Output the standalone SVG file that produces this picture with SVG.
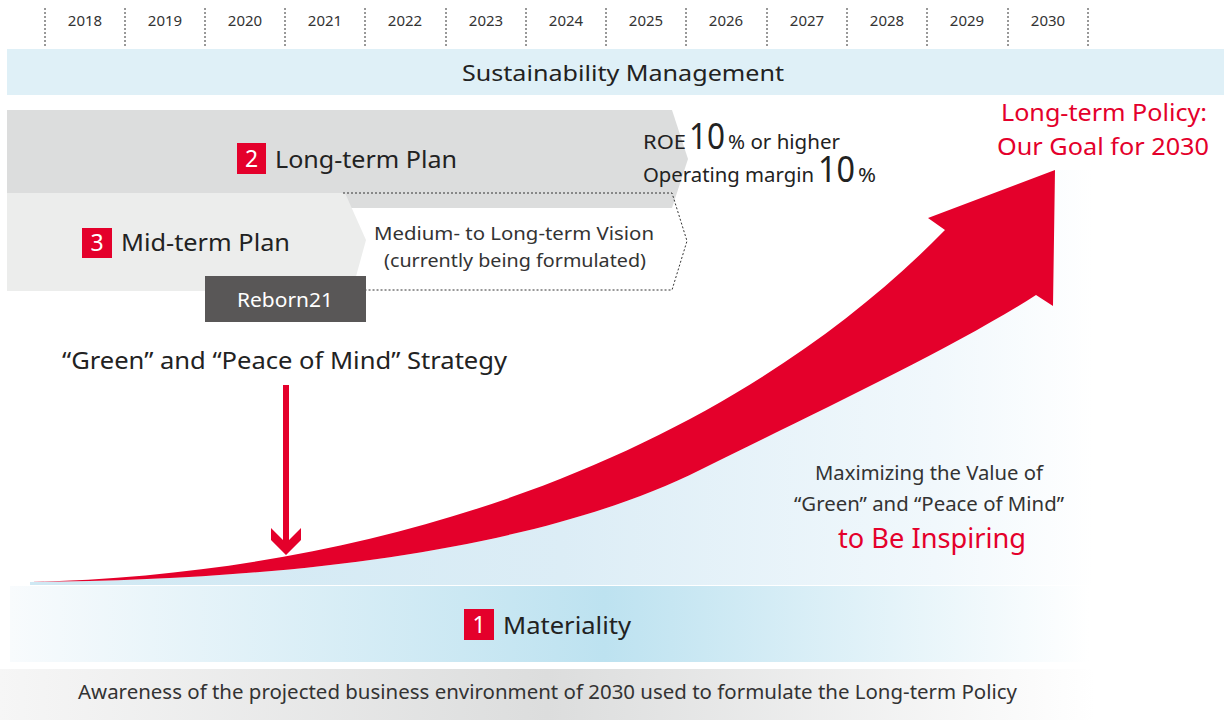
<svg xmlns="http://www.w3.org/2000/svg" width="1224" height="720" viewBox="0 0 1224 720">
<defs>
<style>
text{font-family:"Noto Sans","Open Sans","Liberation Sans",sans-serif;fill:#222;}
.yr{font-size:15px;text-anchor:middle;fill:#333;}
.tick{stroke:#333;stroke-width:1;stroke-dasharray:2,2;}
.red{fill:#e4002b;}
.num{font-size:23px;fill:#fff;text-anchor:middle;}
.big{font-size:24px;}
.gray{fill:#333;}
.rt{fill:#e4002b;}
</style>
<linearGradient id="gArea" gradientUnits="userSpaceOnUse" x1="30" y1="0" x2="1095" y2="0">
<stop offset="0" stop-color="#cfe8f3"/>
<stop offset="0.5" stop-color="#dcedf6"/>
<stop offset="0.85" stop-color="#f1f8fc"/>
<stop offset="1" stop-color="#ffffff"/>
</linearGradient>
<linearGradient id="gMat" gradientUnits="userSpaceOnUse" x1="10" y1="0" x2="1090" y2="0">
<stop offset="0" stop-color="#f8fbfd"/>
<stop offset="0.55" stop-color="#bde2f0"/>
<stop offset="1" stop-color="#ffffff"/>
</linearGradient>
<linearGradient id="gAw" gradientUnits="userSpaceOnUse" x1="0" y1="0" x2="1095" y2="0">
<stop offset="0" stop-color="#f6f6f6"/>
<stop offset="0.5" stop-color="#dcdddd"/>
<stop offset="1" stop-color="#ffffff"/>
</linearGradient>
</defs>
<rect width="1224" height="720" fill="#fff"/>

<g id="timeline">
<path class="tick" d="M45,8V48M125,8V48M205,8V48M285,8V48M365,8V48M446,8V48M526,8V48M606,8V48M686,8V48M767,8V48M847,8V48M927,8V48M1008,8V48M1088,8V48"/>
<text class="yr" x="85" y="26">2018</text>
<text class="yr" x="165" y="26">2019</text>
<text class="yr" x="245" y="26">2020</text>
<text class="yr" x="325" y="26">2021</text>
<text class="yr" x="405" y="26">2022</text>
<text class="yr" x="486" y="26">2023</text>
<text class="yr" x="566" y="26">2024</text>
<text class="yr" x="646" y="26">2025</text>
<text class="yr" x="726" y="26">2026</text>
<text class="yr" x="807" y="26">2027</text>
<text class="yr" x="887" y="26">2028</text>
<text class="yr" x="967" y="26">2029</text>
<text class="yr" x="1048" y="26">2030</text>
</g>

<g id="sustainability">
<rect x="7" y="49" width="1217" height="46" fill="#dff0f7"/>
<text x="462" y="81" font-size="22" textLength="322" lengthAdjust="spacingAndGlyphs">Sustainability Management</text>
</g>

<g id="area">
<path d="M30,585 L30,582 C330,580 560,540 700,470 C800,420 950,350 1036,295 L1053,306 L1055,170 L1092,170 L1092,585 Z" fill="url(#gArea)"/>
</g>

<g id="longterm">
<polygon points="7,110 672,110 688,159 672,208 7,208" fill="#dcdddd"/>
<rect class="red" x="237" y="143" width="29" height="31"/>
<text class="num" x="251.5" y="167">2</text>
<text class="big" x="275" y="168" textLength="182" lengthAdjust="spacingAndGlyphs">Long-term Plan</text>
</g>

<g id="midterm">
<polygon points="7,193 345,193 366,240 352,291 7,291" fill="#ecedec"/>
<rect class="red" x="82" y="228" width="30" height="30"/>
<text class="num" x="97" y="251">3</text>
<text class="big" x="121" y="251" textLength="169" lengthAdjust="spacingAndGlyphs">Mid-term Plan</text>
</g>

<g id="vision">
<path d="M343,193 H672 L687,241 L672,290 H366" fill="none" stroke="#333" stroke-width="1" stroke-dasharray="2,2"/>
<text class="gray" x="374" y="240" font-size="18" textLength="280" lengthAdjust="spacingAndGlyphs">Medium- to Long-term Vision</text>
<text class="gray" x="384" y="267" font-size="18" textLength="262" lengthAdjust="spacingAndGlyphs">(currently being formulated)</text>
</g>

<g id="reborn21">
<rect x="205" y="276" width="161" height="46" fill="#595757"/>
<text x="237" y="307" font-size="20" textLength="96" lengthAdjust="spacingAndGlyphs" style="fill:#fff">Reborn21</text>
</g>

<g id="kpi">
<text x="643" y="149" font-size="19" textLength="43" lengthAdjust="spacingAndGlyphs">ROE</text>
<text x="689" y="149" font-size="36" textLength="36" lengthAdjust="spacingAndGlyphs">10</text>
<text x="728" y="149" font-size="19" textLength="112" lengthAdjust="spacingAndGlyphs">% or higher</text>
<text x="643" y="182" font-size="19" textLength="171" lengthAdjust="spacingAndGlyphs">Operating margin</text>
<text x="818" y="182" font-size="36" textLength="37" lengthAdjust="spacingAndGlyphs">10</text>
<text x="858" y="182" font-size="19" textLength="18" lengthAdjust="spacingAndGlyphs">%</text>
</g>

<g id="policy">
<text class="rt" x="1001" y="121" font-size="24" textLength="206" lengthAdjust="spacingAndGlyphs">Long-term Policy:</text>
<text class="rt" x="997" y="155" font-size="24" textLength="212" lengthAdjust="spacingAndGlyphs">Our Goal for 2030</text>
</g>

<g id="strategy">
<text x="62" y="369" font-size="24" textLength="445" lengthAdjust="spacingAndGlyphs">“Green” and “Peace of Mind” Strategy</text>
</g>

<g id="connectors">
<path d="M30,582 C430,572 750,430 945,230 L928,218 L1055,170 L1053,306 L1036,295 C950,350 800,420 700,470 C560,540 330,580 30,582 Z" fill="#e4002b"/>
<polygon points="283,385 289,385 289,540 301,528 301,540 286,555 271,540 271,528 283,540" fill="#e4002b"/>
</g>

<g id="value">
<text class="gray" x="815" y="480" font-size="19" textLength="228" lengthAdjust="spacingAndGlyphs">Maximizing the Value of</text>
<text class="gray" x="794" y="511" font-size="19" textLength="270" lengthAdjust="spacingAndGlyphs">“Green” and “Peace of Mind”</text>
<text class="rt" x="838" y="548" font-size="27" textLength="188" lengthAdjust="spacingAndGlyphs">to Be Inspiring</text>
</g>

<g id="materiality">
<rect x="10" y="586" width="1080" height="76" fill="url(#gMat)"/>
<rect class="red" x="464" y="609" width="30" height="31"/>
<text class="num" x="479" y="633">1</text>
<text x="503" y="634" font-size="24" textLength="128" lengthAdjust="spacingAndGlyphs">Materiality</text>
</g>

<g id="awareness">
<rect x="0" y="669" width="1095" height="51" fill="url(#gAw)"/>
<text class="gray" x="78" y="699" font-size="19" textLength="939" lengthAdjust="spacingAndGlyphs">Awareness of the projected business environment of 2030 used to formulate the Long-term Policy</text>
</g>
</svg>
